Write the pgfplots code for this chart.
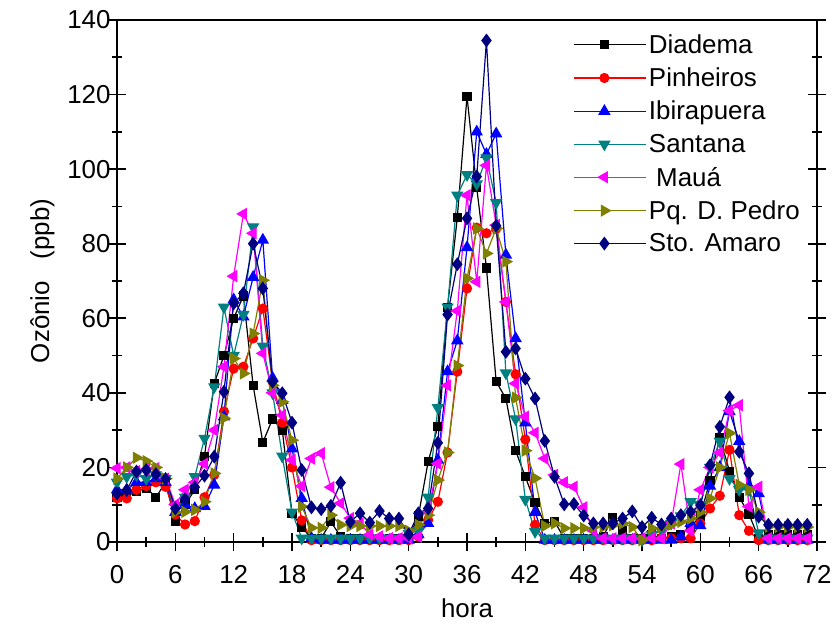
\documentclass[border=0pt]{standalone}
\usepackage{pgfplots}
\pgfplotsset{compat=1.18}
\usepackage{pgfplotstable}
\usepackage{fontspec}
\setmainfont{Liberation Sans}
\definecolor{cteal}{RGB}{0,128,128}
\definecolor{colive}{RGB}{128,128,0}
\definecolor{cnavy}{RGB}{0,0,128}
\definecolor{cmag}{RGB}{255,0,255}
\definecolor{cred}{RGB}{255,0,0}
\definecolor{cblue}{RGB}{0,0,255}
\pgfplotstableread{
h dia pin ibi san mau pqd sto
0 12 11.7 14 16 19.8 17 13
1 13 11.7 14 17.5 20 20 13.9
2 13.5 14 16 18 19 22.6 18.9
3 14.5 15 16 17 19.5 21.7 19.3
4 12 16 17 18 19.8 20 18.2
5 16 14.8 16 17 17 17 16.9
6 5.4 7.4 8 9.5 10 8 9
7 10 4.7 10 12 14 8.1 11.5
8 14 5.6 9 17.5 16 8.6 14.7
9 23 12 9.6 27.8 21 10.8 17.8
10 42.5 18 15.3 41.6 30 18.4 22.9
11 50 35 33.6 63 47 33.2 40.3
12 60 46.5 65 50 71.3 49.2 64
13 66 47 60.4 61 88 45.2 66.7
14 42 54.6 71 84.5 82.8 55.9 80
15 26.7 62.6 81 52.5 50.6 70.2 68
16 33 43 44 40 40 42 43
17 30 32 38 23 34 37.6 39.9
18 7.7 20 25 8 22 27.3 32
19 4 5.8 11.7 1 15 9.5 19.3
20 1 0.5 1 1 22.4 3.8 9.3
21 1 0.5 0.5 1 23.8 3.8 8.8
22 5.4 0.5 0.5 1 14.7 7.2 9.7
23 1.5 0.5 0.5 1 10.4 4.6 15.9
24 1 0.5 0.5 1 6.4 4.3 5.4
25 1 0.5 0.5 1 5 4.3 7.7
26 1 0.5 0.5 1 2 4.3 5.2
27 1 0.5 0.5 1 1.5 4.3 8.3
28 1 0.5 0.5 1 1 4.3 6.3
29 1 0.5 0.5 1 1 4.3 6.3
30 1 0.5 0.5 2.3 1 3 2
31 7 1.5 2 3 1.4 4.6 7.7
32 21.5 5.9 5 12 8 7.2 9
33 31 10.8 22 36 21 16.6 26.6
34 63 24 45.7 63 42 24 61
35 87 45.7 54 93 62 47.3 74.5
36 119.5 68 79 98.5 93 70.7 86.8
37 95 84.3 110 96 69.8 84.1 98
38 73.5 82.8 104 103 101 77.4 134.5
39 43 84 109.5 91 85 84.1 84.8
40 38.5 64.4 77 45.3 64.4 75.2 51
41 24.5 45 54.6 33 42.5 38.7 51.9
42 17.5 27.5 32 11.4 33.6 24.5 43.8
43 10.5 4.6 8 2.8 29.3 17.1 38.5
44 5 0.5 0.5 1 22.4 4.3 27.1
45 5.5 0.5 0.5 1 18 5 17.5
46 1 0.5 0.5 1 16 3.7 10.1
47 1 0.5 0.5 1 14.8 3.7 10.2
48 1 0.5 0.5 1 9.3 3.7 7.1
49 1 0.5 0.5 1 3 4 5
50 1.5 0.5 0.5 1 1 4 5
51 6.5 0.5 0.5 1 1 4.5 5
52 3 0.5 0.5 1 1 5 6.3
53 1 0.5 0.5 1 1 4 8.2
54 1 0.5 0.5 0.5 1 0.5 4
55 2 0.5 0.5 2 1 3.7 6.5
56 1 1 0.5 3 1 4 4.7
57 1.5 1 0.5 5 5 4.6 6.3
58 2 1 1.4 7 20.9 5.4 7.2
59 4 1 5 10.8 3 6.3 8.1
60 7 5 4.4 10 14 8 9.9
61 16.5 9 15 20 20 11.7 20.6
62 28 12.4 20 27 24 20 30.9
63 19 24.7 35 17 35.2 29.2 38.8
64 12 7.2 27 14 36.7 15.3 24.2
65 7.5 3 15 14 9.5 14 18.4
66 1 0.5 13 2.4 14.8 8 6.8
67 2 0.5 0.5 1 1 4.1 4.6
68 2 0.5 0.5 1 1 4 4.6
69 2 0.5 0.5 1 1 4 4.6
70 2 0.5 0.5 1 1 4 4.6
71 2 0.5 0.5 1 1 4 4.6
}\data
\begin{document}
\begin{tikzpicture}
\begin{axis}[
  name=ax,
  scale only axis,
  width=700bp, height=522bp,
  xmin=0, xmax=72, ymin=0, ymax=140,
  xtick={0,6,...,72}, ytick={0,20,...,140},
  minor x tick num=1, minor y tick num=1,
  xtick pos=bottom, ytick pos=both,
  tick align=center,
  major tick length=18bp, minor tick length=10bp,
  axis line style={line width=1.6bp},
  every tick/.style={line width=1.6bp, black},
  /pgf/number format/assume math mode=true,
  ticklabel style={font=\fontsize{26}{30}\selectfont},
  xticklabel style={yshift=-11bp},
  yticklabel style={xshift=6bp},
  label style={font=\fontsize{26}{30}\selectfont},
  xlabel={hora},
  xlabel style={yshift=-8bp},
  ylabel={Ozônio\ \ \ (ppb)},
  ylabel style={yshift=6bp},
  every axis plot/.append style={line width=1.2bp},
  legend style={at={(0.648,0.98)}, anchor=north west, draw=none, fill=none,
    font=\fontsize{26}{30}\selectfont, row sep=9bp},
  legend cell align=left,
  legend image code/.code={\path (0bp,0bp) -- (72bp,0bp);\draw[mark repeat=2,mark phase=2] plot coordinates {(0bp,0bp) (30bp,0bp) (60bp,0bp)};},
]
\addplot[black, mark=square*, mark size=4bp] table[x=h,y=dia]{\data};
\addlegendentry{Diadema}
\addplot[cred, mark=*, mark size=4.5bp] table[x=h,y=pin]{\data};
\addlegendentry{Pinheiros}
\addplot[cblue, mark=triangle*, mark size=6bp] table[x=h,y=ibi]{\data};
\addlegendentry{Ibirapuera}
\addplot[cteal, mark=triangle*, mark size=6bp, mark options={rotate=180}] table[x=h,y=san]{\data};
\addlegendentry{Santana}
\addplot[cmag, mark=triangle*, mark size=6bp, mark options={rotate=90}] table[x=h,y=mau]{\data};
\addlegendentry{\ Mauá}
\addplot[colive, mark=triangle*, mark size=6bp, mark options={rotate=-90}] table[x=h,y=pqd]{\data};
\addlegendentry{Pq. D. Pedro}
\addplot[cnavy, mark=diamond*, mark size=6bp] table[x=h,y=sto]{\data};
\addlegendentry{Sto. Amaro}
\coordinate (LL) at (rel axis cs:0,0);
\coordinate (UR) at (rel axis cs:1,1);
\end{axis}
\pgfresetboundingbox
\path[use as bounding box] ([xshift=-117bp,yshift=-83bp]LL) rectangle ([xshift=19bp,yshift=20bp]UR);
\end{tikzpicture}
\end{document}
